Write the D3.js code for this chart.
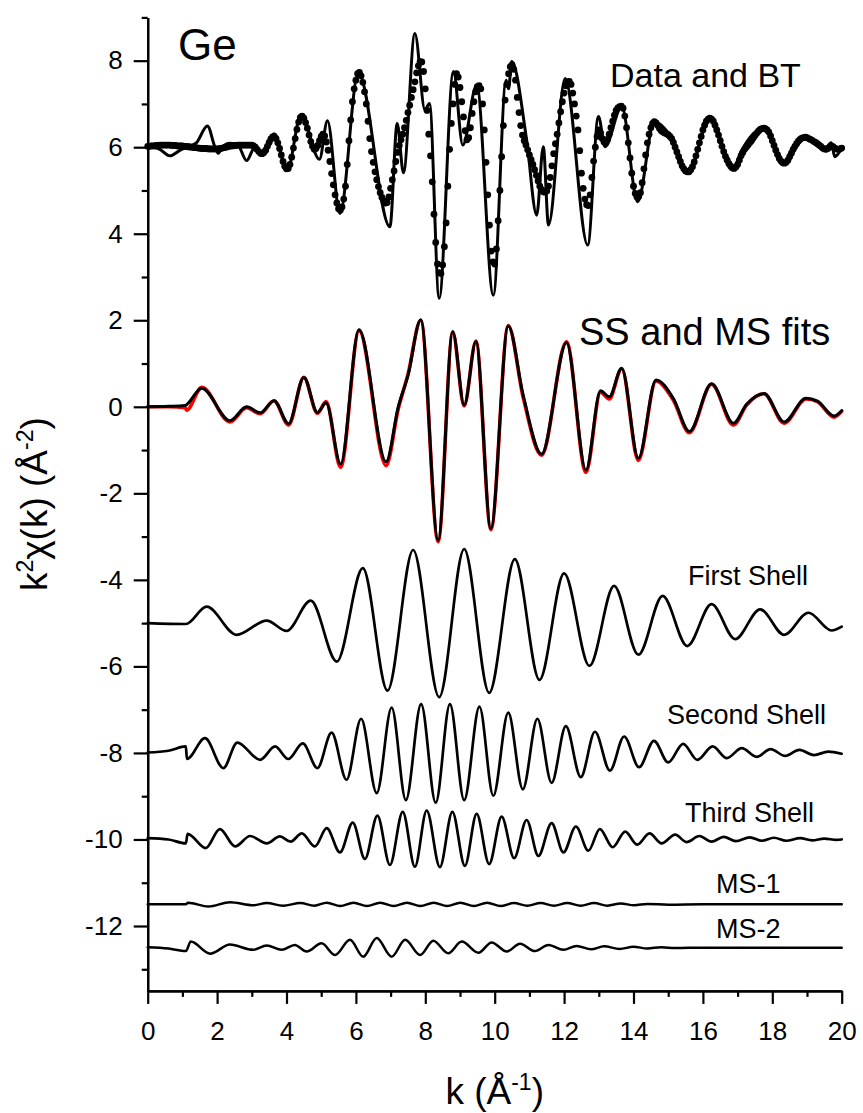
<!DOCTYPE html>
<html>
<head>
<meta charset="utf-8">
<script src="https://cdn.jsdelivr.net/npm/d3@7"></script>
<style>
  body { margin: 0; background: #fff; }
  text { font-family: "Liberation Sans", Arial, sans-serif; fill: #000; }
</style>
</head>
<body>
<svg id="chart" width="863" height="1113"></svg>
<script>
// ---- Data: k (1/Å) and k²χ(k) with vertical offsets already included ----

// Experimental k²χ(k), plotted as symbols (offset +6)
const expData = [
  [0.0,6.02],[0.05,6.02],[0.1,6.03],[0.15,6.03],[0.2,6.03],[0.25,6.04],[0.3,6.04],[0.35,6.05],[0.4,6.05],[0.45,6.05],
  [0.5,6.05],[0.55,6.05],[0.6,6.05],[0.65,6.05],[0.7,6.04],[0.75,6.04],[0.8,6.04],[0.85,6.03],[0.9,6.03],[0.95,6.03],
  [1.0,6.03],[1.05,6.02],[1.1,6.02],[1.15,6.01],[1.2,6.01],[1.25,6.00],[1.3,6.00],[1.35,5.99],[1.4,5.99],[1.45,5.98],
  [1.5,5.98],[1.55,5.97],[1.6,5.97],[1.65,5.97],[1.7,5.97],[1.75,5.96],[1.8,5.96],[1.85,5.96],[1.9,5.96],[1.95,5.96],
  [2.0,5.96],[2.05,5.96],[2.1,5.97],[2.15,5.98],[2.2,5.99],[2.25,6.00],[2.3,6.01],[2.35,6.02],[2.4,6.03],[2.45,6.03],
  [2.5,6.04],[2.55,6.04],[2.6,6.05],[2.65,6.05],[2.7,6.05],[2.75,6.05],[2.8,6.05],[2.85,6.05],[2.9,6.05],[2.95,6.05],
  [3.0,6.05],[3.05,6.03],[3.1,6.00],[3.15,5.95],[3.2,5.90],[3.25,5.86],[3.3,5.85],[3.35,5.88],[3.4,5.93],[3.45,6.02],
  [3.5,6.11],[3.55,6.19],[3.6,6.24],[3.65,6.25],[3.7,6.20],[3.75,6.10],[3.8,5.97],[3.85,5.82],[3.9,5.67],[3.95,5.56],
  [4.0,5.50],[4.05,5.51],[4.1,5.60],[4.15,5.77],[4.2,5.98],[4.25,6.20],[4.3,6.41],[4.35,6.58],[4.4,6.69],[4.45,6.72],
  [4.5,6.67],[4.55,6.57],[4.6,6.44],[4.65,6.28],[4.7,6.13],[4.75,6.02],[4.8,5.95],[4.85,5.97],[4.9,6.04],[4.95,6.15],
  [5.0,6.25],[5.05,6.30],[5.1,6.26],[5.15,6.12],[5.2,5.93],[5.25,5.67],[5.3,5.39],[5.35,5.13],[5.4,4.90],[5.45,4.71],
  [5.5,4.58],[5.55,4.54],[5.6,4.62],[5.65,4.80],[5.7,5.10],[5.75,5.60],[5.8,6.15],[5.85,6.63],[5.9,7.05],[5.95,7.35],
  [6.0,7.55],[6.05,7.70],[6.1,7.73],[6.15,7.65],[6.2,7.50],[6.25,7.28],[6.3,7.00],[6.35,6.60],[6.4,6.20],[6.45,5.90],
  [6.5,5.65],[6.55,5.43],[6.6,5.25],[6.65,5.09],[6.7,4.95],[6.75,4.84],[6.8,4.76],[6.85,4.71],[6.9,4.72],[6.95,4.85],
  [7.0,5.05],[7.05,5.25],[7.1,5.45],[7.15,5.67],[7.2,5.88],[7.25,6.04],[7.3,6.17],[7.35,6.30],[7.4,6.45],[7.45,6.62],
  [7.5,6.80],[7.55,6.97],[7.6,7.15],[7.65,7.33],[7.7,7.51],[7.75,7.72],[7.8,7.88],[7.85,7.98],[7.9,7.97],[7.95,7.75],
  [8.0,7.35],[8.05,6.85],[8.1,6.30],[8.15,5.80],[8.2,5.20],[8.25,4.45],[8.3,3.80],[8.35,3.30],[8.4,3.10],[8.45,3.08],
  [8.5,3.28],[8.55,3.70],[8.6,4.25],[8.65,5.10],[8.7,5.95],[8.75,6.55],[8.8,7.00],[8.85,7.45],[8.9,7.70],[8.95,7.62],
  [9.0,7.38],[9.05,7.05],[9.1,6.70],[9.15,6.38],[9.2,6.17],[9.25,6.22],[9.3,6.45],[9.35,6.78],[9.4,7.05],[9.45,7.28],
  [9.5,7.40],[9.55,7.42],[9.6,7.35],[9.65,7.00],[9.7,6.40],[9.75,5.65],[9.8,4.90],[9.85,4.20],[9.9,3.60],[9.95,3.35],
  [10.0,3.30],[10.05,3.65],[10.1,4.30],[10.15,5.00],[10.2,5.78],[10.25,6.50],[10.3,7.09],[10.35,7.45],[10.4,7.70],[10.45,7.86],
  [10.5,7.90],[10.55,7.80],[10.6,7.55],[10.65,7.15],[10.7,6.80],[10.75,6.50],[10.8,6.28],[10.85,6.15],[10.9,6.05],[10.95,5.94],
  [11.0,5.82],[11.05,5.71],[11.1,5.60],[11.15,5.48],[11.2,5.35],[11.25,5.22],[11.3,5.10],[11.35,5.02],[11.4,4.97],[11.45,4.96],
  [11.5,4.99],[11.55,5.10],[11.6,5.30],[11.65,5.57],[11.7,5.85],[11.75,6.08],[11.8,6.30],[11.85,6.56],[11.9,6.82],[11.95,7.05],
  [12.0,7.25],[12.05,7.42],[12.1,7.51],[12.15,7.52],[12.2,7.45],[12.25,7.25],[12.3,7.00],[12.35,6.72],[12.4,6.40],[12.45,5.92],
  [12.5,5.40],[12.55,5.05],[12.6,4.80],[12.65,4.67],[12.7,4.65],[12.75,4.90],[12.8,5.30],[12.85,5.68],[12.9,6.00],[12.95,6.25],
  [13.0,6.40],[13.05,6.33],[13.1,6.20],[13.15,6.12],[13.2,6.10],[13.25,6.18],[13.3,6.30],[13.35,6.45],[13.4,6.60],[13.45,6.74],
  [13.5,6.85],[13.55,6.91],[13.6,6.94],[13.65,6.95],[13.7,6.90],[13.75,6.72],[13.8,6.45],[13.85,6.10],[13.9,5.75],[13.95,5.40],
  [14.0,5.10],[14.05,4.93],[14.1,4.85],[14.15,4.86],[14.2,4.95],[14.25,5.18],[14.3,5.50],[14.35,5.82],[14.4,6.10],[14.45,6.30],
  [14.5,6.45],[14.55,6.55],[14.6,6.59],[14.65,6.56],[14.7,6.50],[14.75,6.43],[14.8,6.38],[14.85,6.35],[14.9,6.33],[14.95,6.31],
  [15.0,6.29],[15.05,6.25],[15.1,6.20],[15.15,6.11],[15.2,6.00],[15.25,5.89],[15.3,5.78],[15.35,5.67],[15.4,5.57],[15.45,5.50],
  [15.5,5.45],[15.55,5.43],[15.6,5.43],[15.65,5.48],[15.7,5.55],[15.75,5.66],[15.8,5.80],[15.85,5.95],[15.9,6.10],[15.95,6.25],
  [16.0,6.40],[16.05,6.51],[16.1,6.60],[16.15,6.65],[16.2,6.67],[16.25,6.65],[16.3,6.60],[16.35,6.51],[16.4,6.40],[16.45,6.28],
  [16.5,6.15],[16.55,6.02],[16.6,5.90],[16.65,5.79],[16.7,5.70],[16.75,5.62],[16.8,5.56],[16.85,5.52],[16.9,5.51],[16.95,5.54],
  [17.0,5.60],[17.05,5.70],[17.1,5.80],[17.15,5.88],[17.2,5.95],[17.25,6.00],[17.3,6.05],[17.35,6.10],[17.4,6.15],[17.45,6.21],
  [17.5,6.27],[17.55,6.32],[17.6,6.37],[17.65,6.41],[17.7,6.43],[17.75,6.44],[17.8,6.43],[17.85,6.40],[17.9,6.35],[17.95,6.26],
  [18.0,6.15],[18.05,6.04],[18.1,5.93],[18.15,5.83],[18.2,5.74],[18.25,5.68],[18.3,5.64],[18.35,5.63],[18.4,5.65],[18.45,5.70],
  [18.5,5.78],[18.55,5.86],[18.6,5.95],[18.65,6.02],[18.7,6.08],[18.75,6.14],[18.8,6.18],[18.85,6.21],[18.9,6.22],[18.95,6.23],
  [19.0,6.22],[19.05,6.20],[19.1,6.18],[19.15,6.16],[19.2,6.13],[19.25,6.11],[19.3,6.08],[19.35,6.05],[19.4,6.02],[19.45,5.98],
  [19.5,5.96],[19.55,5.95],[19.6,5.97],[19.65,6.00],[19.7,6.03],[19.75,6.01],[19.8,5.98],[19.85,5.96],[19.9,5.95],[19.95,5.96],
  [20.0,5.98]
];

// Back-transformed signal (offset +6)
const btCurve = [
  [0,6.02],[0.35,5.95],[0.64,5.80],[0.95,5.94],[1.12,6.0],[1.4,6.1],[1.72,6.49],[1.94,6.0],[2.03,5.86],[2.15,6.0],
  [2.37,6.09],[2.6,6.05],[2.85,5.69],[3.09,6.0],[3.28,5.85],[3.64,6.31],[4.02,5.47],[4.42,6.75],[4.95,5.72],[5.18,6.61],
  [5.54,4.47],[6.07,7.72],[6.98,4.16],[7.19,6.55],[7.37,5.41],[7.70,8.63],[7.99,6.86],[8.12,7.01],[8.40,2.51],[8.81,7.75],
  [9.08,6.05],[9.48,7.44],[9.96,2.58],[10.33,7.55],[10.4,7.35],[10.49,7.98],[10.92,6.17],[11.21,4.43],[11.40,6.01],[11.55,4.2],
  [12.03,7.59],[12.68,3.74],[12.99,6.71],[13.18,6.01],[13.66,6.94],[14.12,4.74],[14.6,6.59],[15.05,6.28],[15.58,5.43],[16.2,6.67],
  [16.88,5.51],[17.1,5.9],[17.76,6.44],[18.34,5.63],[18.94,6.23],[19.5,5.94],[19.7,6.1],[19.8,5.78],[20,5.98]
];

// Sum of SS and MS paths (black) and total fit (red), offset 0
const ssmsSum = [
  [0,0.0],[0.6,0.01],[1.08,0.03],[1.12,0.05],[1.56,0.43],[2.37,-0.32],[2.85,0.0],[3.24,-0.14],[3.64,0.14],[4.06,-0.39],
  [4.50,0.68],[4.89,-0.13],[5.14,0.09],[5.56,-1.32],[6.09,1.78],[6.87,-1.27],[7.22,0.0],[7.5,0.72],[7.87,2.01],[8.37,-3.08],
  [8.79,1.74],[9.12,0.04],[9.46,1.51],[9.89,-2.81],[10.39,1.87],[10.82,0.27],[11.35,-1.09],[12.07,1.48],[12.63,-1.46],[13.05,0.37],
  [13.30,0.23],[13.66,0.89],[14.14,-1.19],[14.65,0.62],[15.15,0.19],[15.61,-0.57],[16.25,0.53],[16.88,-0.38],[17.26,0.06],[17.76,0.31],
  [18.34,-0.35],[18.97,0.20],[19.3,0.13],[19.78,-0.21],[20,-0.09]
];
const ssmsFit = [
  [0,0.0],[0.6,0.0],[1.08,-0.02],[1.12,-0.08],[1.56,0.45],[2.37,-0.35],[2.85,-0.02],[3.24,-0.16],[3.64,0.14],[4.06,-0.42],
  [4.50,0.68],[4.89,-0.15],[5.14,0.12],[5.56,-1.40],[6.09,1.76],[6.87,-1.36],[7.22,-0.05],[7.5,0.75],[7.87,2.0],[8.37,-3.12],
  [8.79,1.72],[9.12,0.02],[9.46,1.52],[9.89,-2.84],[10.39,1.88],[10.82,0.22],[11.35,-1.12],[12.07,1.50],[12.63,-1.52],[13.05,0.34],
  [13.30,0.18],[13.66,0.88],[14.14,-1.24],[14.65,0.60],[15.15,0.15],[15.61,-0.60],[16.25,0.52],[16.88,-0.42],[17.26,0.04],[17.76,0.30],
  [18.34,-0.38],[18.97,0.18],[19.3,0.12],[19.78,-0.24],[20,-0.10]
];

// Individual scattering paths
const firstShell = [
  [0,-5.0],[1.1,-5.02],[1.70,-4.62],[2.56,-5.27],[3.43,-4.94],[4.0,-5.18],[4.70,-4.48],[5.45,-5.89],[6.20,-3.73],[6.91,-6.56],
  [7.65,-3.31],[8.40,-6.71],[9.12,-3.29],[9.84,-6.61],[10.58,-3.52],[11.29,-6.31],[12.0,-3.85],[12.73,-5.99],[13.44,-4.14],[14.14,-5.73],
  [14.84,-4.37],[15.55,-5.53],[16.25,-4.56],[16.93,-5.37],[17.65,-4.68],[18.34,-5.27],[19.04,-4.76],[19.71,-5.17],[20,-5.08]
];
const secondShell = [
  [0,-7.99],[0.6,-7.95],[1.1,-7.85],[1.13,-8.14],[1.65,-7.66],[2.18,-8.35],[2.58,-7.76],[3.24,-8.16],[3.67,-7.85],[4.05,-8.14],
  [4.47,-7.78],[4.89,-8.35],[5.30,-7.53],[5.73,-8.62],[6.15,-7.21],[6.60,-8.93],[7.03,-6.95],[7.44,-9.09],[7.88,-6.87],[8.30,-9.15],
  [8.71,-6.87],[9.12,-9.09],[9.56,-6.93],[9.96,-8.99],[10.39,-7.07],[10.81,-8.84],[11.23,-7.21],[11.64,-8.69],[12.05,-7.38],[12.48,-8.56],
  [12.89,-7.51],[13.32,-8.41],[13.73,-7.62],[14.16,-8.33],[14.59,-7.72],[15.0,-8.22],[15.43,-7.79],[15.84,-8.16],[16.28,-7.85],[16.69,-8.12],
  [17.12,-7.89],[17.55,-8.09],[17.95,-7.91],[18.37,-8.07],[18.78,-7.93],[19.2,-8.05],[19.61,-7.97],[20,-8.02]
];
const thirdShell = [
  [0,-9.97],[0.6,-10.0],[1.1,-10.09],[1.15,-9.87],[1.67,-10.2],[2.08,-9.76],[2.52,-10.16],[2.95,-9.92],[3.43,-10.09],[3.81,-9.93],
  [4.12,-10.05],[4.44,-9.86],[4.82,-10.16],[5.16,-9.74],[5.54,-10.30],[5.91,-9.61],[6.26,-10.45],[6.62,-9.45],[6.98,-10.59],[7.35,-9.36],
  [7.70,-10.63],[8.04,-9.33],[8.42,-10.64],[8.78,-9.36],[9.14,-10.61],[9.48,-9.41],[9.84,-10.57],[10.20,-9.47],[10.56,-10.43],[10.92,-9.55],
  [11.26,-10.38],[11.64,-9.62],[11.98,-10.30],[12.34,-9.70],[12.7,-10.26],[13.03,-9.76],[13.4,-10.18],[13.76,-9.82],[14.11,-10.12],[14.46,-9.86],
  [14.81,-10.09],[15.2,-9.89],[15.53,-10.06],[15.9,-9.92],[16.25,-10.05],[16.6,-9.94],[16.95,-10.04],[17.35,-9.95],[17.7,-10.03],[18.05,-9.96],
  [18.4,-10.03],[18.8,-9.97],[19.15,-10.02],[19.5,-9.98],[19.85,-10.01],[20,-10.0]
];
const ms1 = [
  [0,-11.5],[1.1,-11.5],[1.16,-11.46],[1.75,-11.55],[2.37,-11.45],[3.05,-11.52],[3.43,-11.47],[3.9,-11.53],[4.4,-11.47],[4.8,-11.53],
  [5.16,-11.46],[5.55,-11.54],[5.93,-11.46],[6.32,-11.54],[6.7,-11.46],[7.09,-11.54],[7.47,-11.46],[7.86,-11.54],[8.24,-11.46],[8.63,-11.54],
  [9.01,-11.46],[9.4,-11.54],[9.78,-11.46],[10.17,-11.54],[10.55,-11.47],[10.94,-11.53],[11.32,-11.47],[11.71,-11.53],[12.09,-11.47],[12.48,-11.53],
  [12.86,-11.47],[13.25,-11.53],[13.63,-11.48],[14.02,-11.52],[14.4,-11.49],[15,-11.51],[16,-11.5],[20,-11.5]
];
const ms2 = [
  [0,-12.49],[0.6,-12.52],[1.1,-12.58],[1.24,-12.36],[1.8,-12.64],[2.37,-12.43],[3.04,-12.55],[3.43,-12.45],[3.86,-12.55],[4.24,-12.44],
  [4.58,-12.59],[5.01,-12.40],[5.40,-12.67],[5.83,-12.32],[6.21,-12.71],[6.60,-12.28],[7.03,-12.71],[7.42,-12.32],[7.85,-12.67],[8.23,-12.34],
  [8.66,-12.63],[9.05,-12.36],[9.53,-12.62],[9.91,-12.38],[10.35,-12.59],[10.73,-12.41],[11.16,-12.58],[11.55,-12.44],[11.98,-12.55],[12.36,-12.46],
  [12.78,-12.54],[13.15,-12.47],[13.6,-12.53],[14.0,-12.48],[14.4,-12.52],[14.8,-12.49],[15.2,-12.51],[16,-12.5],[20,-12.5]
];

// Axis ticks
const xMajorTicks = [0,2,4,6,8,10,12,14,16,18,20];
const xMinorTicks = [1,3,5,7,9,11,13,15,17,19];
const yMajorTicks = [-12,-10,-8,-6,-4,-2,0,2,4,6,8];
const yMinorTicks = [-13,-11,-9,-7,-5,-3,-1,1,3,5,7,9];

// ---- Drawing ----
const svg = d3.select("#chart");
const x = d3.scaleLinear().domain([0, 20]).range([147.7, 841.7]);
const y = d3.scaleLinear().domain([-13.5, 9]).range([990.9, 17.4]);

const line = d3.line().x(d => x(d[0])).y(d => y(d[1])).curve(d3.curveMonotoneX);

const plot = svg.append("g");

function drawCurve(data, color, width) {
  plot.append("path")
    .datum(data)
    .attr("d", line)
    .attr("fill", "none")
    .attr("stroke", color)
    .attr("stroke-width", width)
    .attr("stroke-linejoin", "round")
    .attr("stroke-linecap", "round");
}

// shells and MS paths
drawCurve(firstShell, "#000", 2.7);
drawCurve(secondShell, "#000", 2.7);
drawCurve(thirdShell, "#000", 2.7);
drawCurve(ms1, "#000", 2.5);
drawCurve(ms2, "#000", 2.5);

// SS + MS fit
drawCurve(ssmsFit, "#ff0000", 3.6);
drawCurve(ssmsSum, "#000", 3.0);

// experimental points and BT line
plot.append("g").selectAll("circle")
  .data(expData)
  .join("circle")
  .attr("cx", d => x(d[0]))
  .attr("cy", d => y(d[1]))
  .attr("r", 3.4)
  .attr("fill", "#000");
drawCurve(btCurve, "#000", 3.0);

// ---- Axes ----
const fmt = d => String(d);

const xAxis = svg.append("g").attr("transform", `translate(0,${y(-13.5)})`)
  .call(d3.axisBottom(x).tickValues(xMajorTicks).tickFormat(fmt).tickSize(13).tickSizeOuter(0).tickPadding(17.5));
const xAxisMinor = svg.append("g").attr("transform", `translate(0,${y(-13.5)})`)
  .call(d3.axisBottom(x).tickValues(xMinorTicks).tickFormat("").tickSize(6).tickSizeOuter(0));

const yAxis = svg.append("g").attr("transform", `translate(${x(0)},0)`)
  .call(d3.axisLeft(y).tickValues(yMajorTicks).tickFormat(fmt).tickSize(14).tickSizeOuter(0).tickPadding(11));
const yAxisMinor = svg.append("g").attr("transform", `translate(${x(0)},0)`)
  .call(d3.axisLeft(y).tickValues(yMinorTicks).tickFormat("").tickSize(6).tickSizeOuter(0));

[xAxis, xAxisMinor, yAxis, yAxisMinor].forEach(g => {
  g.selectAll("path.domain").attr("stroke", "#000").attr("stroke-width", 2.2);
  g.selectAll(".tick line").attr("stroke", "#000").attr("stroke-width", 2.2);
  g.selectAll(".tick text")
    .attr("font-family", "Liberation Sans, Arial, sans-serif")
    .attr("font-size", 26)
    .attr("fill", "#000");
});

// Axis titles
const xt = svg.append("text")
  .attr("x", x(10)).attr("y", 1104)
  .attr("text-anchor", "middle")
  .attr("font-size", 37);
xt.append("tspan").text("k (Å");
xt.append("tspan").attr("dy", -14).attr("font-size", 23).text("-1");
xt.append("tspan").attr("dy", 14).text(")");

const yt = svg.append("text")
  .attr("transform", `translate(47,${(y(9) + y(-13.5)) / 2}) rotate(-90)`)
  .attr("text-anchor", "middle")
  .attr("font-size", 37);
yt.append("tspan").text("k");
yt.append("tspan").attr("dy", -14).attr("font-size", 23).text("2");
yt.append("tspan").attr("dy", 14).text("χ(k) (Å");
yt.append("tspan").attr("dy", -14).attr("font-size", 23).text("-2");
yt.append("tspan").attr("dy", 14).text(")");

// Panel annotations
const labels = [
  { t: "Ge", x: 178, y: 60, s: 44 },
  { t: "Data and BT", x: 610, y: 87, s: 34 },
  { t: "SS and MS fits", x: 579, y: 345, s: 38 },
  { t: "First Shell", x: 688, y: 585, s: 27 },
  { t: "Second Shell", x: 667, y: 724, s: 27 },
  { t: "Third Shell", x: 685, y: 822, s: 27 },
  { t: "MS-1", x: 716, y: 893, s: 27 },
  { t: "MS-2", x: 716, y: 938, s: 27 }
];
svg.append("g").selectAll("text")
  .data(labels)
  .join("text")
  .attr("x", d => d.x)
  .attr("y", d => d.y)
  .attr("font-size", d => d.s)
  .text(d => d.t);
</script>
</body>
</html>
